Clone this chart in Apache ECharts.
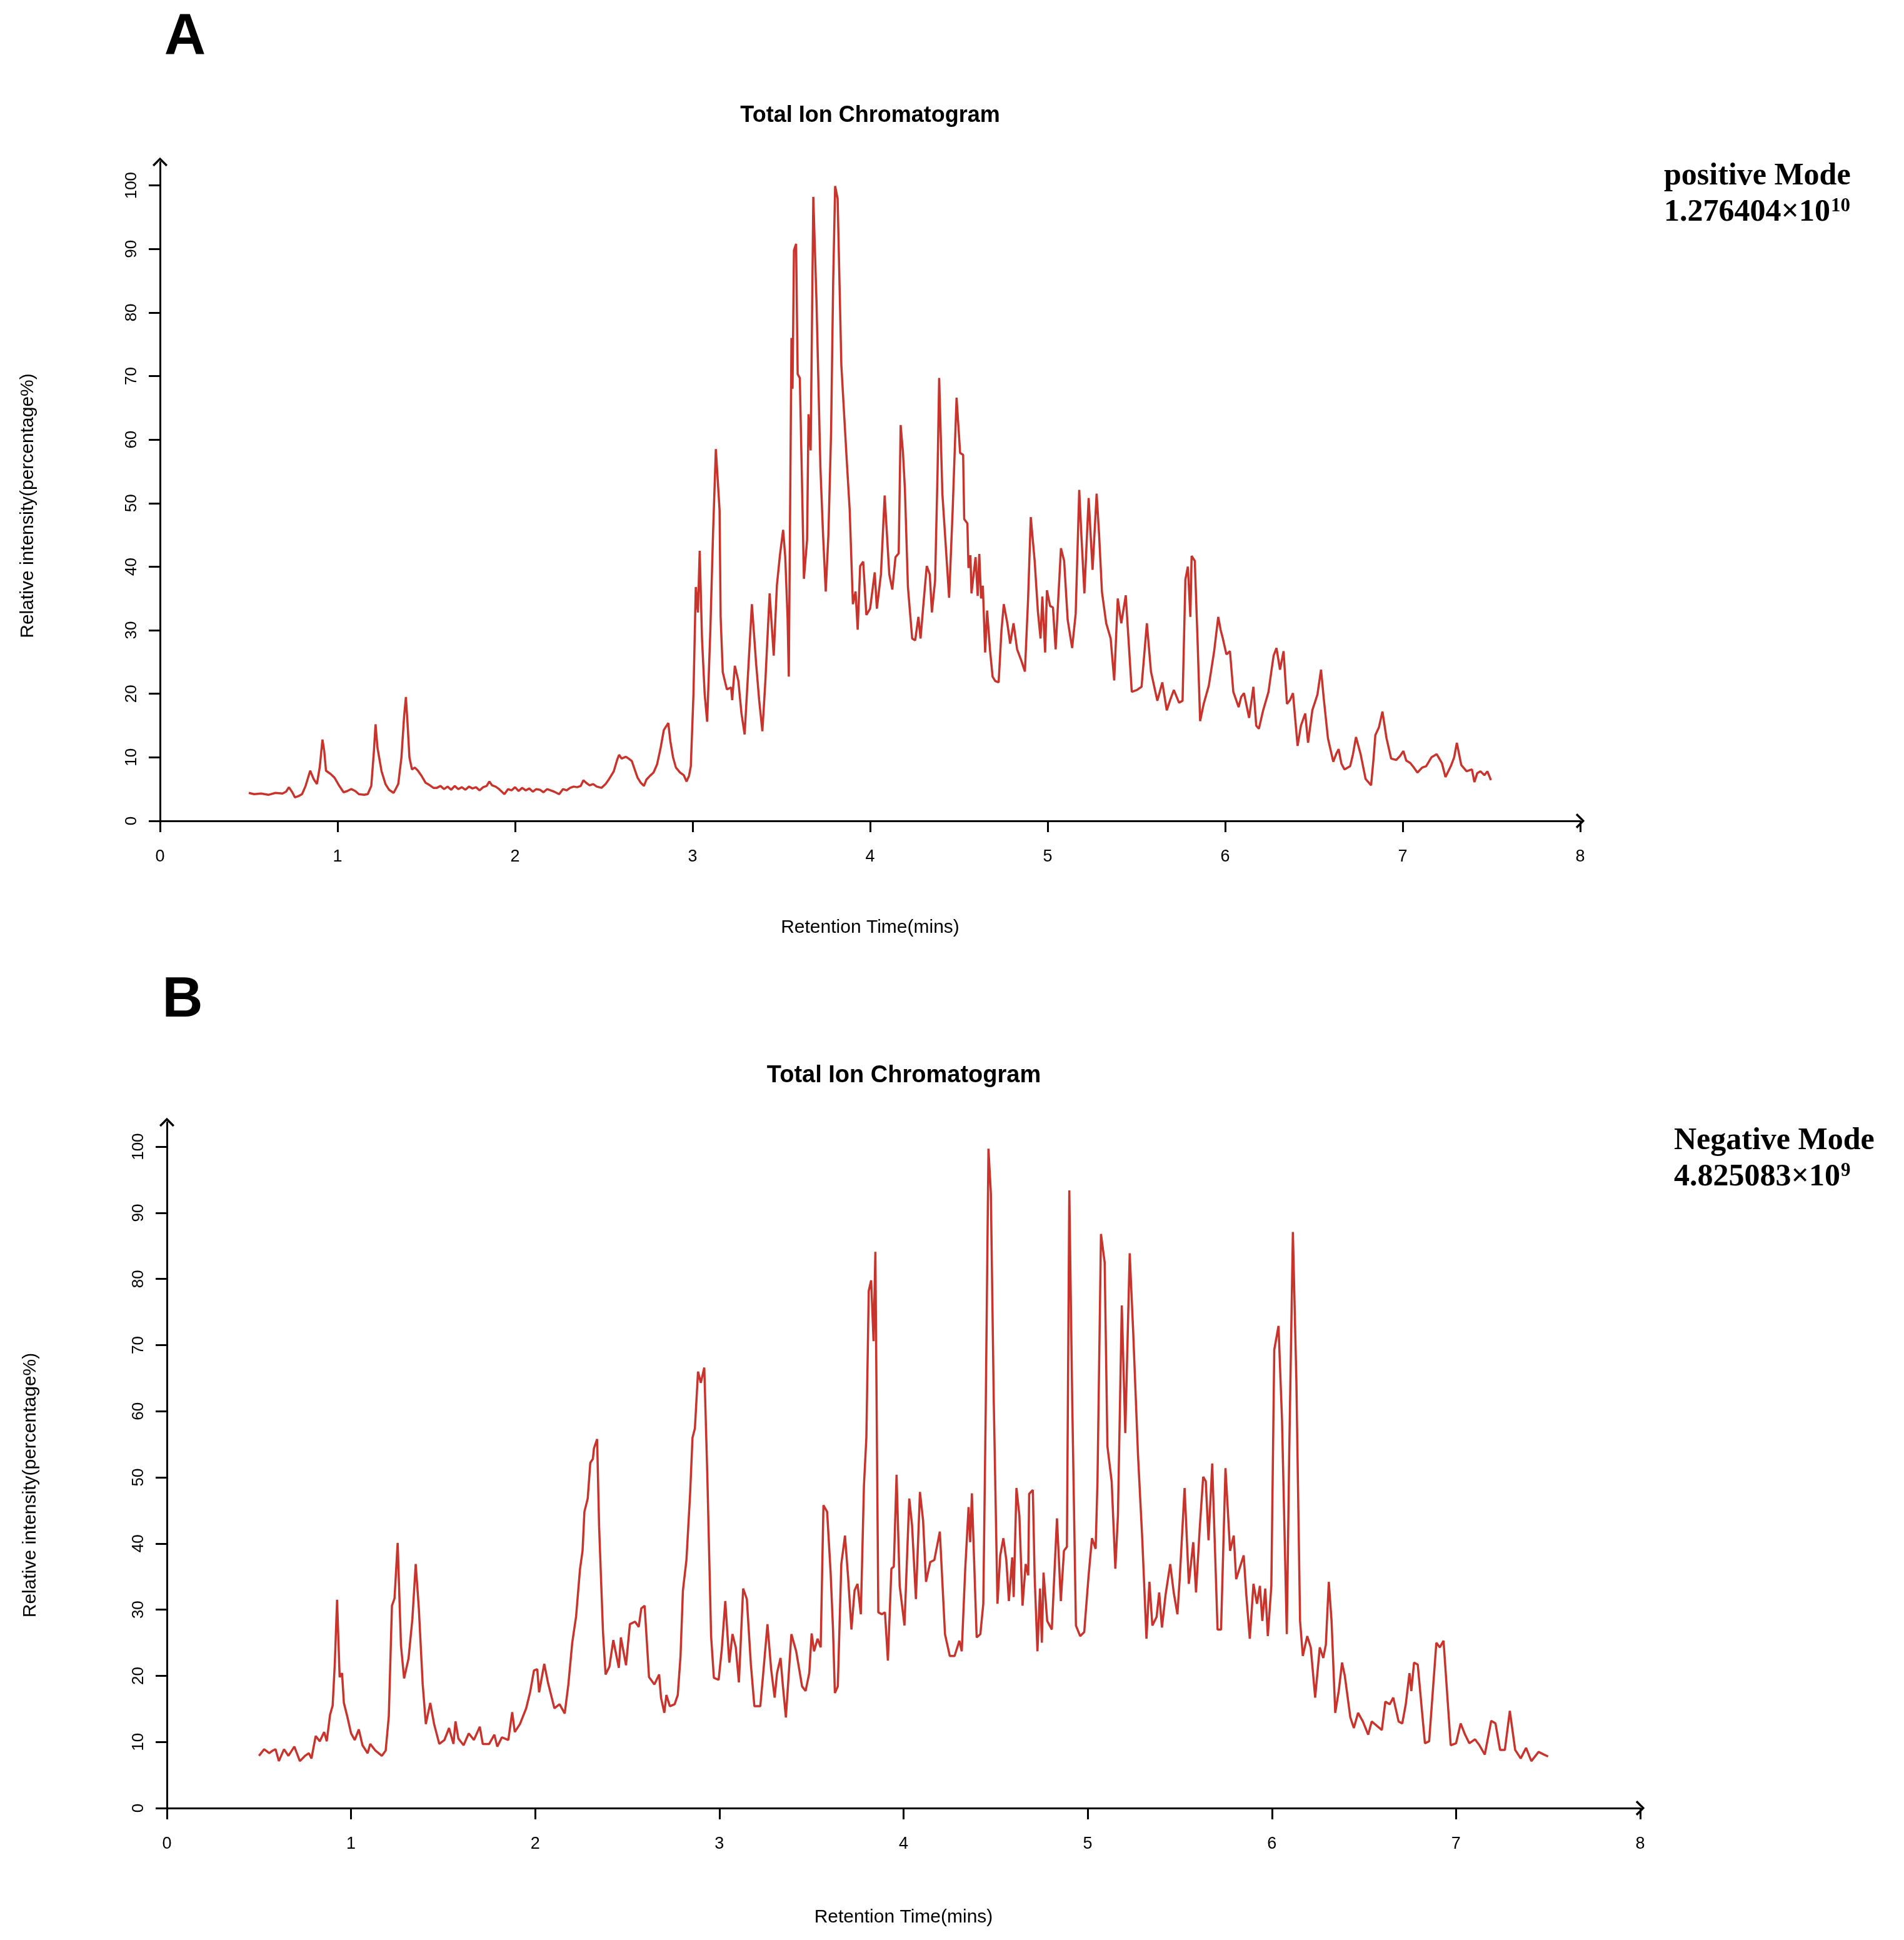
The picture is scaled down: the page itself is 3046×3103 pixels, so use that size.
<!DOCTYPE html>
<html>
<head>
<meta charset="utf-8">
<script src="https://cdn.jsdelivr.net/npm/echarts@6/dist/echarts.min.js"></script>
<style>
html,body{margin:0;padding:0;background:#fff;}
#chart{width:3046px;height:3103px;}
</style>
</head>
<body>
<div id="chart"></div>
<script>
// ---- data (retention time in min, relative intensity %) ----
const ticPositive = [
[0.50,4.4],[0.53,4.2],[0.57,4.3],[0.61,4.1],[0.65,4.4],[0.69,4.3],[0.71,4.6],[0.726,5.3],[0.745,4.5],[0.76,3.7],
[0.78,3.9],[0.80,4.2],[0.82,5.5],[0.846,7.9],[0.865,6.6],[0.884,5.8],[0.90,8.5],[0.915,12.8],[0.925,11.0],[0.935,7.9],
[0.96,7.4],[0.983,6.8],[1.01,5.5],[1.034,4.5],[1.055,4.7],[1.077,5.0],[1.10,4.7],[1.12,4.2],[1.15,4.1],[1.17,4.2],
[1.19,5.5],[1.205,11.0],[1.214,15.2],[1.225,11.5],[1.248,7.8],[1.27,5.8],[1.29,4.9],[1.316,4.4],[1.342,5.8],[1.36,10.0],
[1.375,16.5],[1.385,19.5],[1.395,15.0],[1.405,10.0],[1.419,8.1],[1.435,8.4],[1.453,7.9],[1.475,7.0],[1.496,6.0],[1.52,5.6],
[1.54,5.2],[1.56,5.2],[1.58,5.5],[1.60,5.0],[1.62,5.4],[1.64,4.9],[1.66,5.5],[1.68,5.0],[1.70,5.3],[1.72,4.9],
[1.74,5.4],[1.76,5.1],[1.78,5.3],[1.80,4.8],[1.82,5.3],[1.84,5.5],[1.855,6.2],[1.87,5.6],[1.89,5.4],[1.91,5.0],
[1.94,4.2],[1.96,5.0],[1.98,4.8],[2.00,5.3],[2.02,4.7],[2.04,5.2],[2.06,4.8],[2.08,5.1],[2.10,4.6],[2.12,5.0],
[2.14,4.9],[2.16,4.5],[2.18,5.0],[2.20,4.8],[2.22,4.6],[2.248,4.2],[2.27,5.0],[2.29,4.8],[2.31,5.2],[2.33,5.4],
[2.35,5.3],[2.37,5.5],[2.385,6.4],[2.40,6.0],[2.42,5.6],[2.44,5.8],[2.46,5.4],[2.487,5.2],[2.51,5.8],[2.53,6.6],
[2.556,7.8],[2.575,9.6],[2.586,10.4],[2.60,9.8],[2.624,10.1],[2.64,9.8],[2.658,9.4],[2.675,8.0],[2.69,6.8],[2.708,6.0],
[2.726,5.5],[2.74,6.5],[2.76,7.1],[2.78,7.6],[2.80,8.9],[2.82,11.5],[2.838,14.3],[2.863,15.4],[2.875,12.5],[2.89,10.0],
[2.906,8.4],[2.93,7.6],[2.95,7.2],[2.966,6.2],[2.98,7.1],[2.99,8.6],[3.005,20.0],[3.018,36.8],[3.03,32.8],[3.04,42.5],
[3.053,28.7],[3.068,20.0],[3.082,15.6],[3.10,30.0],[3.115,45.0],[3.131,58.5],[3.152,48.9],[3.158,32.1],[3.17,23.4],[3.193,20.7],
[3.217,21.0],[3.223,19.0],[3.238,24.4],[3.258,22.0],[3.275,17.0],[3.293,13.6],[3.31,22.0],[3.334,34.1],[3.358,24.7],[3.375,19.0],
[3.393,14.1],[3.41,22.0],[3.434,35.8],[3.457,26.0],[3.475,37.1],[3.492,41.8],[3.51,45.8],[3.522,41.5],[3.535,32.0],[3.542,22.7],
[3.557,76.0],[3.563,68.0],[3.571,89.8],[3.583,90.8],[3.592,70.3],[3.604,69.7],[3.615,55.0],[3.627,38.1],[3.645,44.2],[3.653,64.0],
[3.665,58.3],[3.68,98.2],[3.698,81.7],[3.72,55.6],[3.735,45.0],[3.75,36.1],[3.765,45.0],[3.78,61.0],[3.792,85.0],[3.803,99.9],
[3.817,97.9],[3.838,71.7],[3.868,56.9],[3.885,48.9],[3.903,34.1],[3.918,36.1],[3.93,30.1],[3.944,40.1],[3.961,40.8],[3.979,32.4],
[4.0,33.4],[4.026,39.1],[4.038,33.4],[4.061,38.8],[4.082,51.2],[4.095,45.0],[4.108,38.8],[4.125,36.4],[4.143,41.5],[4.161,42.1],
[4.172,62.3],[4.185,58.0],[4.196,52.2],[4.213,36.8],[4.237,28.7],[4.254,28.4],[4.272,32.1],[4.284,28.7],[4.30,34.0],[4.319,40.1],
[4.336,38.8],[4.348,32.8],[4.366,37.8],[4.38,55.0],[4.389,69.7],[4.407,51.5],[4.424,44.2],[4.445,35.1],[4.465,48.9],[4.487,66.6],
[4.507,57.9],[4.524,57.6],[4.53,47.5],[4.548,46.8],[4.554,39.8],[4.565,41.8],[4.571,35.8],[4.594,41.5],[4.606,35.4],[4.615,42.0],
[4.625,35.0],[4.635,37.0],[4.648,26.5],[4.659,33.1],[4.676,26.7],[4.69,22.7],[4.705,22.0],[4.724,21.8],[4.74,30.0],[4.753,34.1],
[4.773,31.1],[4.789,27.9],[4.808,31.1],[4.828,27.0],[4.852,25.2],[4.872,23.5],[4.89,35.0],[4.905,47.8],[4.927,40.9],[4.945,33.0],
[4.96,28.7],[4.97,35.3],[4.986,26.5],[4.996,36.3],[5.014,33.8],[5.03,33.6],[5.045,27.0],[5.06,35.0],[5.075,42.9],[5.093,40.9],
[5.113,31.6],[5.138,27.2],[5.158,32.6],[5.178,52.1],[5.19,45.0],[5.207,35.8],[5.231,50.8],[5.253,39.5],[5.276,51.5],[5.29,45.0],
[5.306,36.0],[5.33,31.1],[5.355,28.7],[5.375,22.1],[5.395,35.0],[5.415,31.1],[5.44,35.5],[5.474,20.3],[5.503,20.6],[5.529,21.1],
[5.559,31.1],[5.582,23.5],[5.618,18.9],[5.646,21.8],[5.671,17.4],[5.69,19.0],[5.711,20.6],[5.74,18.6],[5.76,18.9],[5.776,38.0],
[5.79,40.0],[5.804,32.1],[5.811,41.7],[5.829,40.9],[5.845,28.0],[5.859,15.7],[5.879,18.4],[5.908,21.3],[5.938,26.7],[5.961,32.1],
[5.975,30.0],[5.987,28.7],[6.007,26.2],[6.027,26.7],[6.046,20.3],[6.076,17.9],[6.09,19.5],[6.106,20.1],[6.135,16.2],[6.159,21.1],
[6.175,15.0],[6.19,14.5],[6.214,17.4],[6.244,20.3],[6.26,23.5],[6.273,26.0],[6.289,27.2],[6.309,23.8],[6.329,26.7],[6.348,18.4],
[6.365,19.0],[6.382,20.1],[6.408,11.8],[6.427,15.0],[6.451,16.9],[6.467,12.3],[6.491,17.4],[6.52,19.9],[6.54,23.8],[6.556,19.1],
[6.579,13.0],[6.609,9.3],[6.625,10.5],[6.639,11.3],[6.655,9.0],[6.672,8.1],[6.704,8.6],[6.72,10.5],[6.737,13.2],[6.763,10.5],
[6.791,6.6],[6.822,5.6],[6.835,9.5],[6.846,13.5],[6.866,14.7],[6.886,17.2],[6.909,13.0],[6.935,9.8],[6.964,9.6],[6.985,10.2],
[7.004,11.0],[7.02,9.5],[7.043,9.1],[7.06,8.5],[7.083,7.6],[7.11,8.4],[7.132,8.6],[7.162,10.0],[7.192,10.5],[7.221,9.1],
[7.241,6.9],[7.271,8.6],[7.29,10.0],[7.305,12.3],[7.33,8.8],[7.36,7.8],[7.39,8.1],[7.404,6.1],[7.42,7.5],[7.438,7.8],
[7.46,7.2],[7.477,7.8],[7.497,6.4]
];

const ticNegative = [
[0.5,7.9],[0.528,8.9],[0.556,8.3],[0.575,8.7],[0.59,8.9],[0.608,7.1],[0.636,8.9],[0.66,7.9],[0.692,9.3],[0.722,7.1],
[0.75,7.9],[0.771,8.3],[0.785,7.5],[0.808,10.9],[0.83,10.1],[0.854,11.5],[0.868,10.1],[0.886,14.1],[0.9,15.5],[0.912,22.0],
[0.924,31.5],[0.938,19.8],[0.951,20.4],[0.961,15.9],[0.979,13.9],[1.0,11.3],[1.02,10.3],[1.042,11.9],[1.062,9.5],[1.09,8.3],
[1.104,9.7],[1.132,8.7],[1.167,7.9],[1.188,8.7],[1.205,13.9],[1.222,30.6],[1.236,31.7],[1.253,40.1],[1.271,24.6],[1.288,19.6],
[1.312,22.6],[1.333,28.6],[1.351,36.9],[1.368,30.2],[1.389,18.7],[1.406,12.7],[1.43,15.9],[1.451,12.7],[1.479,9.7],[1.507,10.3],
[1.532,12.1],[1.556,9.7],[1.567,13.1],[1.583,10.5],[1.611,9.5],[1.639,11.3],[1.667,10.3],[1.699,12.3],[1.715,9.7],[1.75,9.7],
[1.778,11.1],[1.794,9.3],[1.819,10.7],[1.854,10.3],[1.875,14.5],[1.889,11.5],[1.917,12.7],[1.951,15.1],[1.972,17.5],[1.993,20.8],
[2.011,21.0],[2.021,17.5],[2.049,21.8],[2.069,19.0],[2.104,15.1],[2.132,15.7],[2.16,14.3],[2.18,18.7],[2.201,25.0],[2.222,29.0],
[2.243,36.1],[2.257,38.9],[2.267,44.8],[2.285,46.8],[2.299,52.2],[2.313,52.8],[2.319,54.4],[2.336,55.8],[2.347,42.5],[2.368,26.6],
[2.382,20.2],[2.403,21.4],[2.424,25.4],[2.454,21.2],[2.465,25.8],[2.493,21.6],[2.514,27.8],[2.542,28.2],[2.562,27.4],[2.576,30.2],
[2.594,30.6],[2.618,19.8],[2.647,18.7],[2.673,20.2],[2.683,16.7],[2.701,14.4],[2.712,17.1],[2.731,15.4],[2.757,15.7],[2.774,17.1],
[2.789,23.0],[2.802,32.9],[2.821,37.5],[2.841,47.5],[2.854,56.0],[2.867,57.4],[2.884,66.0],[2.899,64.3],[2.918,66.6],[2.934,50.8],
[2.955,26.0],[2.97,19.7],[2.996,19.4],[3.013,24.0],[3.032,31.3],[3.054,22.0],[3.071,26.3],[3.089,24.3],[3.106,19.0],[3.129,33.2],
[3.149,31.6],[3.171,21.7],[3.19,15.4],[3.222,15.4],[3.235,19.4],[3.261,27.8],[3.281,21.0],[3.3,16.7],[3.313,20.4],[3.332,22.7],
[3.345,18.4],[3.361,13.7],[3.391,26.3],[3.417,23.7],[3.449,18.4],[3.468,17.7],[3.488,20.4],[3.501,26.4],[3.514,23.7],[3.533,25.6],
[3.55,24.3],[3.565,45.8],[3.585,44.8],[3.604,35.6],[3.617,27.0],[3.627,17.4],[3.643,18.4],[3.662,36.9],[3.682,41.2],[3.699,34.9],
[3.717,27.0],[3.734,32.9],[3.75,33.9],[3.768,29.3],[3.785,48.8],[3.798,56.0],[3.811,78.2],[3.824,79.8],[3.837,70.6],[3.847,84.1],
[3.863,29.6],[3.882,29.3],[3.899,29.6],[3.915,22.3],[3.934,36.2],[3.947,36.5],[3.962,50.4],[3.979,33.6],[4.005,27.6],[4.031,46.8],
[4.046,42.8],[4.067,31.6],[4.089,47.8],[4.106,43.5],[4.122,34.2],[4.145,37.2],[4.167,37.5],[4.197,41.8],[4.225,26.3],[4.251,23.0],
[4.277,23.0],[4.303,25.3],[4.316,23.7],[4.335,36.2],[4.353,45.5],[4.362,40.2],[4.371,47.6],[4.397,25.8],[4.417,26.3],[4.433,30.9],
[4.446,60.0],[4.461,99.7],[4.474,93.0],[4.49,61.3],[4.51,30.9],[4.525,38.2],[4.542,40.8],[4.558,37.5],[4.572,31.3],[4.59,37.9],
[4.598,31.9],[4.613,48.4],[4.629,44.2],[4.646,30.6],[4.663,36.9],[4.677,35.2],[4.682,47.5],[4.702,48.1],[4.712,34.9],[4.727,23.7],
[4.741,33.2],[4.751,25.0],[4.76,35.6],[4.78,28.3],[4.805,27.0],[4.833,43.8],[4.854,31.3],[4.871,38.9],[4.887,39.5],[4.9,93.4],
[4.916,61.3],[4.936,27.6],[4.959,26.0],[4.981,26.6],[5.004,34.9],[5.023,40.8],[5.043,39.2],[5.053,49.4],[5.072,86.8],[5.092,82.5],
[5.107,54.7],[5.13,49.4],[5.15,36.2],[5.164,44.2],[5.185,76.0],[5.204,56.7],[5.228,83.9],[5.247,71.9],[5.273,53.4],[5.296,40.8],
[5.319,25.6],[5.335,34.2],[5.351,27.6],[5.374,28.9],[5.388,32.6],[5.403,27.3],[5.423,32.3],[5.448,36.9],[5.467,32.6],[5.487,29.3],
[5.5,34.9],[5.526,48.4],[5.549,33.9],[5.573,40.2],[5.588,32.6],[5.608,42.2],[5.627,50.1],[5.641,49.4],[5.656,40.5],[5.676,52.1],
[5.705,27.0],[5.724,27.0],[5.748,51.4],[5.773,38.9],[5.793,41.2],[5.806,34.6],[5.832,36.9],[5.847,38.2],[5.861,32.3],[5.88,25.6],
[5.9,33.9],[5.919,30.9],[5.935,33.6],[5.948,28.3],[5.964,33.2],[5.978,26.0],[5.997,33.6],[6.013,69.3],[6.036,72.9],[6.055,58.7],
[6.081,26.3],[6.094,53.4],[6.114,87.1],[6.133,64.6],[6.153,28.3],[6.168,23.0],[6.192,26.0],[6.211,24.3],[6.235,16.7],[6.26,24.3],
[6.279,22.7],[6.293,24.7],[6.309,34.2],[6.324,28.3],[6.344,14.4],[6.363,17.7],[6.381,22.0],[6.396,20.0],[6.426,13.7],[6.445,12.1],
[6.468,14.4],[6.494,13.1],[6.523,11.1],[6.542,13.1],[6.572,12.4],[6.597,11.8],[6.616,16.1],[6.64,15.7],[6.659,16.7],[6.688,13.1],
[6.708,12.8],[6.727,15.7],[6.747,20.4],[6.757,17.7],[6.772,22.0],[6.792,21.7],[6.831,9.8],[6.854,10.1],[6.893,25.0],[6.912,24.3],
[6.932,25.3],[6.971,9.5],[7.0,9.8],[7.025,12.8],[7.049,11.1],[7.072,9.8],[7.103,10.4],[7.127,9.5],[7.156,8.1],[7.191,13.2],
[7.214,12.8],[7.239,8.8],[7.265,8.8],[7.292,14.7],[7.321,8.8],[7.351,7.5],[7.38,9.1],[7.409,7.1],[7.448,8.5],[7.477,8.1],
[7.5,7.8]
];

const yTickValues = [0, 10, 20, 30, 40, 50, 60, 70, 80, 90, 100];
const chartTitle = 'Total Ion Chromatogram';
const xName = 'Retention Time(mins)';
const yName = 'Relative intensity(percentage%)';
const modeLabels = ['positive Mode', 'Negative Mode'];
const totalIntensity = [['1.276404×10', '10'], ['4.825083×10', '9']];

// ---- styling ----
const SANS = '"Liberation Sans", Arial, Helvetica, sans-serif';
const SERIF = '"Liberation Serif", "Times New Roman", serif';
const LINE_COLOR = '#c8332c';
const ARROW = 'path://M10,0 L20,10 L18,12 L10,4 L2,12 L0,10 Z';

function makeX(gridIndex, nameGap) {
  return {
    gridIndex: gridIndex, type: 'value', min: 0, max: 8, interval: 1,
    axisLine: { show: true, onZero: false, symbol: ['none', ARROW], symbolSize: [24, 15],
      lineStyle: { color: '#000', width: 3 } },
    axisTick: { show: true, length: 18, lineStyle: { color: '#000', width: 3 } },
    axisLabel: { color: '#000', fontSize: 27, fontFamily: SANS, margin: 44 },
    splitLine: { show: false },
    name: xName, nameLocation: 'middle', nameGap: nameGap,
    nameTextStyle: { color: '#000', fontSize: 30, fontFamily: SANS }
  };
}
function makeY(gridIndex, nameGap, shiftPad) {
  return {
    gridIndex: gridIndex, type: 'value', min: 0, max: 103.7,
    axisLine: { show: true, symbol: ['none', ARROW], symbolSize: [24, 15],
      lineStyle: { color: '#000', width: 3 } },
    axisTick: { show: true, length: 18, customValues: yTickValues, lineStyle: { color: '#000', width: 3 } },
    axisLabel: { color: '#000', fontSize: 26, fontFamily: SANS, rotate: 90, margin: 32, customValues: yTickValues },
    splitLine: { show: false },
    name: yName, nameLocation: 'middle', nameGap: nameGap,
    nameTextStyle: { color: '#000', fontSize: 30, fontFamily: SANS, padding: [0, shiftPad, 0, 0] }
  };
}
function annot(x, y, i) {
  return {
    type: 'text', x: x, y: y,
    style: {
      text: '{m|' + modeLabels[i] + '}\n{m|' + totalIntensity[i][0] + '}{s|' + totalIntensity[i][1] + '}',
      align: 'left', verticalAlign: 'top',
      rich: {
        m: { fontFamily: SERIF, fontWeight: 'bold', fontSize: 50, lineHeight: 58, fill: '#000', color: '#000' },
        s: { fontFamily: SERIF, fontWeight: 'bold', fontSize: 31, lineHeight: 31, verticalAlign: 'top', padding: [3, 0, 0, 1], fill: '#000', color: '#000' }
      }
    }
  };
}

const chart = echarts.init(document.getElementById('chart'), null, { renderer: 'canvas' });
chart.setOption({
  backgroundColor: '#ffffff',
  animation: false,
  grid: [
    { left: 256, top: 259, width: 2272, height: 1054 },
    { left: 267, top: 1795, width: 2357, height: 1097 }
  ],
  xAxis: [makeX(0, 156), makeX(1, 160)],
  yAxis: [makeY(0, 196, 46), makeY(1, 203, 64)],
  series: [
    { type: 'line', xAxisIndex: 0, yAxisIndex: 0, data: ticPositive, showSymbol: false, symbol: 'none',
      lineStyle: { color: LINE_COLOR, width: 3.5 }, itemStyle: { color: LINE_COLOR } },
    { type: 'line', xAxisIndex: 1, yAxisIndex: 1, data: ticNegative, showSymbol: false, symbol: 'none',
      lineStyle: { color: LINE_COLOR, width: 3.5 }, itemStyle: { color: LINE_COLOR } }
  ],
  graphic: [
    { type: 'text', x: 296, y: 61, style: { text: 'A', fontFamily: SANS, fontWeight: 'bold', fontSize: 92, fill: '#000', align: 'center', verticalAlign: 'middle' } },
    { type: 'text', x: 292, y: 1601, style: { text: 'B', fontFamily: SANS, fontWeight: 'bold', fontSize: 90, fill: '#000', align: 'center', verticalAlign: 'middle' } },
    { type: 'text', x: 1392, y: 185, style: { text: chartTitle, fontFamily: SANS, fontWeight: 'bold', fontSize: 36, fill: '#000', align: 'center', verticalAlign: 'middle' } },
    { type: 'text', x: 1446, y: 1721, style: { text: chartTitle, fontFamily: SANS, fontWeight: 'bold', fontSize: 38, fill: '#000', align: 'center', verticalAlign: 'middle' } },
    annot(2662, 253, 0),
    annot(2678, 1796, 1)
  ]
});
</script>
</body>
</html>
